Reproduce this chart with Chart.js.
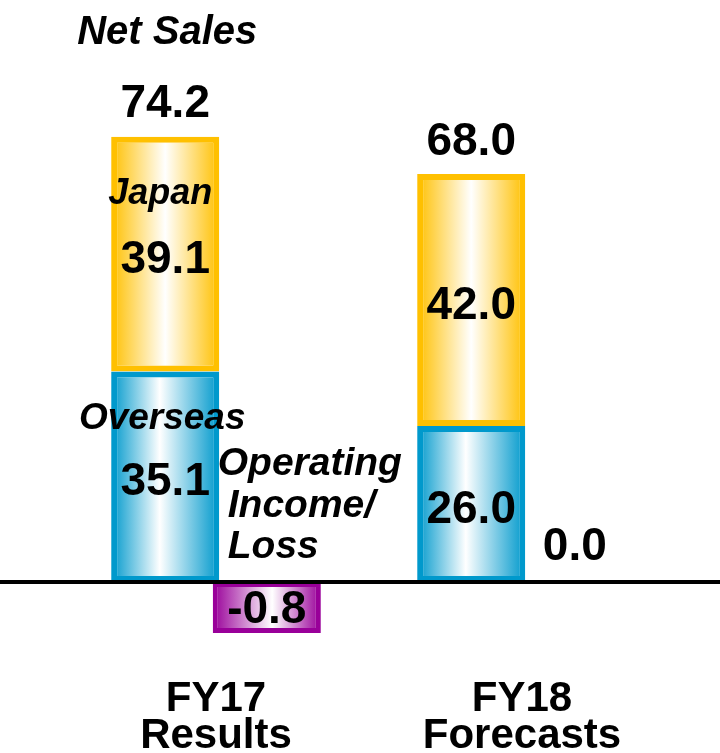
<!DOCTYPE html>
<html>
<head>
<meta charset="utf-8">
<script src="https://cdn.jsdelivr.net/npm/chart.js@4.4.1/dist/chart.umd.min.js"></script>
<style>
  html,body{margin:0;padding:0;background:#fff;}
  #wrap{width:720px;height:753px;position:relative;}
</style>
</head>
<body>
<div id="wrap"><canvas id="chart"></canvas></div>
<script>
// datos del grafico
const categories = [['FY17','Results'],['FY18','Forecasts']];
const overseas = [35.1, 26.0];
const japan = [39.1, 42.0];
const opIncome = [-0.8, 0.0];

// escala: ventas 6 px/unidad, resultado operativo ampliado
const salesMin = -12, salesMax = 90;
const opFactor = 6 / 63.75;

const FONT = '"Liberation Sans", Arial, sans-serif';
const ORANGE = '#FFC000', BLUE = '#0099CC', PURPLE = '#990099';

function grad(ctx, left, right, color, mid){
  const g = ctx.createLinearGradient(left, 0, right, 0);
  g.addColorStop(0, color);
  g.addColorStop(mid, '#FFFFFF');
  g.addColorStop(1, color);
  return g;
}

// relleno degradado horizontal por barra
const gradientPlugin = {
  id: 'gradientFill',
  beforeDatasetsDraw(chart){
    const ctx = chart.ctx;
    chart.data.datasets.forEach((ds, i) => {
      const meta = chart.getDatasetMeta(i);
      meta.data.forEach(el => {
        const l = el.x - el.width/2, r = el.x + el.width/2;
        el.options = Object.assign({}, el.options, {backgroundColor: grad(ctx, l, r, ds.edgeColor, ds.whiteStop)});
      });
    });
  }
};

// texto centrado en la altura de mayusculas
function txt(ctx, s, x, y, size, italic, align){
  ctx.font = (italic ? 'italic ' : '') + 'bold ' + size + 'px ' + FONT;
  ctx.textAlign = align || 'center';
  ctx.textBaseline = 'middle';
  ctx.fillStyle = '#000';
  ctx.fillText(s, x, y + 3);
}

// linea cero y etiquetas
const labelPlugin = {
  id: 'labels',
  afterDatasetsDraw(chart){
    const ctx = chart.ctx;
    const y0 = chart.scales.y.getPixelForValue(0);
    ctx.save();
    ctx.fillStyle = '#000';
    ctx.fillRect(0, y0 - 2, chart.width, 4);

    const mOv = chart.getDatasetMeta(0), mJp = chart.getDatasetMeta(1), mOp = chart.getDatasetMeta(2);
    categories.forEach((c, i) => {
      const ov = mOv.data[i], jp = mJp.data[i], op = mOp.data[i];
      const ovMid = (ov.y + ov.base)/2 + 3;
      const jpMid = (jp.y + jp.base)/2 + 3;
      txt(ctx, overseas[i].toFixed(1), ov.x, ovMid, 46);
      txt(ctx, japan[i].toFixed(1), jp.x, jpMid, 46);
      const totY = jp.y - 35;
      txt(ctx, (overseas[i] + japan[i]).toFixed(1), jp.x, totY, 46);
      if (opIncome[i] === 0) {
        txt(ctx, opIncome[i].toFixed(1), op.x + 2, y0 - 38, 46);
      } else {
        txt(ctx, opIncome[i].toFixed(1), op.x, (op.y + op.base)/2, 46);
      }
      if (i === 0) {
        txt(ctx, 'Net Sales', jp.x + 2, totY - 72, 40, true);
        txt(ctx, 'Japan', jp.x - 5, jpMid - 66, 36, true);
        txt(ctx, 'Overseas', ov.x - 3, ovMid - 64, 37, true);
        const lx = op.x - op.width/2;
        txt(ctx, 'Operating', lx + 5, y0 - 121, 39, true, 'left');
        txt(ctx, 'Income/', lx + 15, y0 - 79, 39, true, 'left');
        txt(ctx, 'Loss', lx + 15, y0 - 38, 39, true, 'left');
      }
    });
    ctx.restore();
  }
};

new Chart(document.getElementById('chart'), {
  type: 'bar',
  data: {
    labels: categories,
    datasets: [
      {label:'Overseas', data: overseas, stack:'sales', yAxisID:'y', edgeColor: BLUE, whiteStop: 0.45,
       borderColor: BLUE, borderWidth: 6, borderSkipped: false},
      {label:'Japan', data: japan, stack:'sales', yAxisID:'y', edgeColor: ORANGE, whiteStop: 0.5,
       borderColor: ORANGE, borderWidth: 6, borderSkipped: false},
      {label:'Operating Income/Loss', data: opIncome, stack:'op', yAxisID:'y2', edgeColor: PURPLE, whiteStop: 0.55,
       borderColor: PURPLE, borderWidth: [5, 0], borderSkipped: false}
    ]
  },
  options: {
    responsive: true,
    maintainAspectRatio: false,
    animation: false,
    events: [],
    categoryPercentage: 0.664,
    barPercentage: 1.064,
    layout: {padding: {left: 63, right: 45, top: 42, bottom: 0}},
    plugins: {legend: {display: false}, tooltip: {enabled: false}},
    scales: {
      x: {
        grid: {display: false}, border: {display: false},
        afterFit(s){ s.height = 99; },
        ticks: {color: '#000', padding: 19, maxRotation: 0, autoSkip: false,
                font: {family: FONT, size: 42, weight: 'bold', lineHeight: 0.88}}
      },
      y: {display: false, min: salesMin, max: salesMax},
      y2: {display: false, min: salesMin * opFactor, max: salesMax * opFactor}
    }
  },
  plugins: [gradientPlugin, labelPlugin]
});
</script>
</body>
</html>
